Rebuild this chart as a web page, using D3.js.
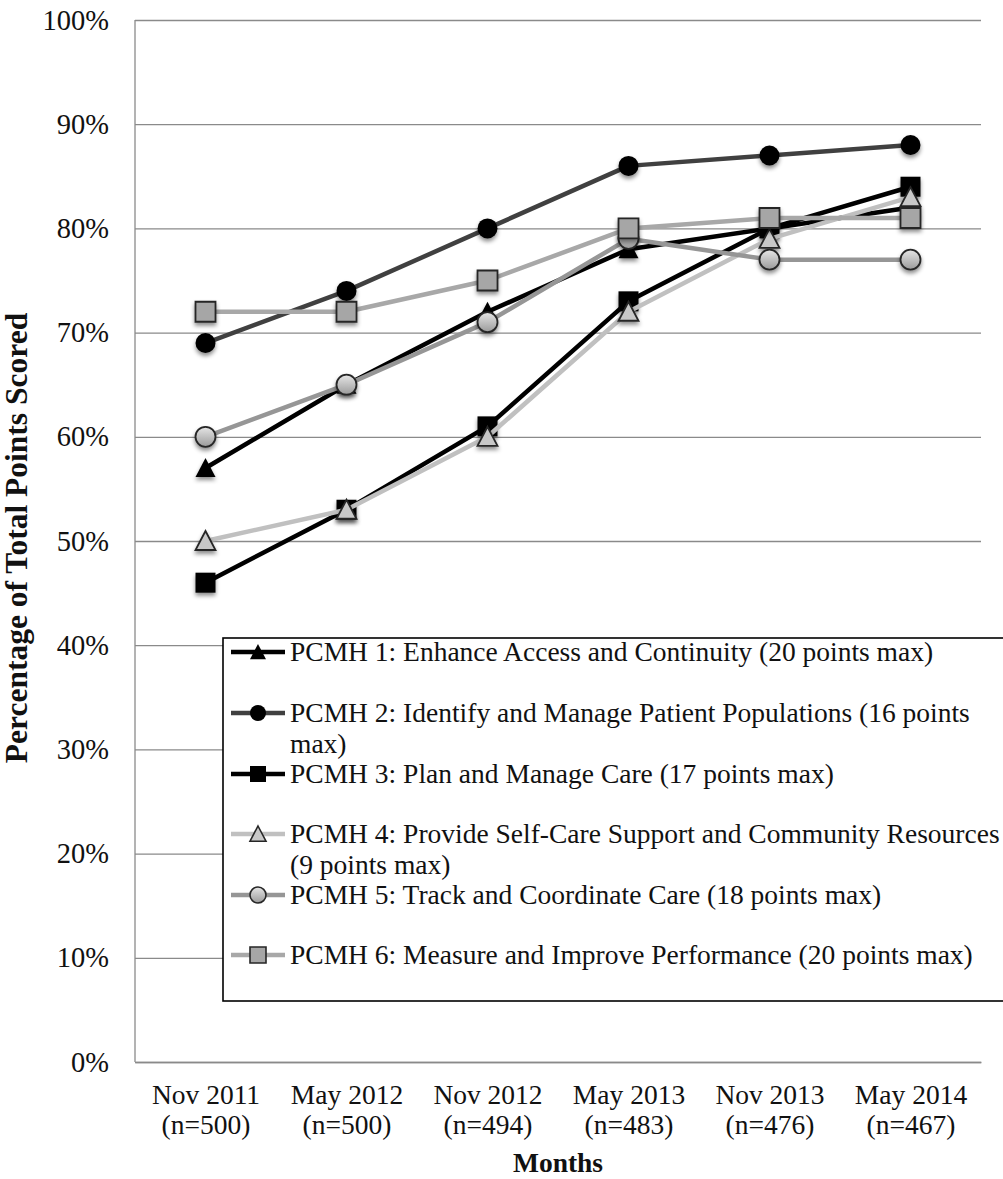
<!DOCTYPE html>
<html>
<head>
<meta charset="utf-8">
<script src="https://cdn.jsdelivr.net/npm/d3@7"></script>
<style>
  html, body { margin: 0; padding: 0; background: #fff; }
  svg { display: block; }
  text { font-family: "Liberation Serif", "Times New Roman", serif; fill: #111; }
</style>
</head>
<body>
<svg id="chart" width="1003" height="1179"></svg>
<script>
// Survey rounds (x categories) and sample sizes
const months = ["Nov 2011", "May 2012", "Nov 2012", "May 2013", "Nov 2013", "May 2014"];
const sampleSizes = ["(n=500)", "(n=500)", "(n=494)", "(n=483)", "(n=476)", "(n=467)"];

// Percentage of total points scored per standard
const pcmh1 = [57, 65, 72, 78, 80, 82];
const pcmh2 = [69, 74, 80, 86, 87, 88];
const pcmh3 = [46, 53, 61, 73, 80, 84];
const pcmh4 = [50, 53, 60, 72, 79, 83];
const pcmh5 = [60, 65, 71, 79, 77, 77];
const pcmh6 = [72, 72, 75, 80, 81, 81];

// Legend labels (pre-wrapped lines)
const seriesLabels = [
  ["PCMH 1: Enhance Access and Continuity (20 points max)"],
  ["PCMH 2: Identify and Manage Patient Populations (16 points", "max)"],
  ["PCMH 3: Plan and Manage Care (17 points max)"],
  ["PCMH 4: Provide Self-Care Support and Community Resources", "(9 points max)"],
  ["PCMH 5: Track and Coordinate Care (18 points max)"],
  ["PCMH 6: Measure and Improve Performance (20 points max)"]
];

const yTicks = [0, 10, 20, 30, 40, 50, 60, 70, 80, 90, 100];

const seriesValues = [pcmh1, pcmh2, pcmh3, pcmh4, pcmh5, pcmh6];
const styles = [
  { line: "#000000", shape: "triangle", fill: "#000000", stroke: "none" },
  { line: "#404040", shape: "circle",   fill: "#000000", stroke: "none" },
  { line: "#000000", shape: "square",   fill: "#000000", stroke: "none" },
  { line: "#c0c0c0", shape: "triangle", fill: "#c8c8c8", stroke: "#262626" },
  { line: "#969696", shape: "circle",   fill: "url(#ballGrad)", stroke: "#262626" },
  { line: "#a8a8a8", shape: "square",   fill: "#a6a6a6", stroke: "#262626" }
];

const svg = d3.select("#chart");
const plotLeft = 135, plotRight = 981, plotTop = 20, plotBottom = 1062;
const FS = 27.5;

const defs = svg.append("defs");
const grad = defs.append("linearGradient").attr("id", "ballGrad")
  .attr("x1", 0).attr("y1", 0).attr("x2", 0).attr("y2", 1);
grad.append("stop").attr("offset", "0%").attr("stop-color", "#e6e6e6");
grad.append("stop").attr("offset", "100%").attr("stop-color", "#9a9a9a");
defs.append("filter").attr("id", "shadow")
  .attr("x", "-50%").attr("y", "-50%").attr("width", "200%").attr("height", "200%")
  .append("feDropShadow").attr("dx", 0).attr("dy", 3).attr("stdDeviation", 2)
  .attr("flood-color", "#000").attr("flood-opacity", 0.45);

const x = d3.scalePoint().domain(months).range([plotLeft, plotRight]).padding(0.5);
const y = d3.scaleLinear().domain([0, 100]).range([plotBottom, plotTop]);

// Gridlines + y tick labels
const yAxis = svg.append("g").attr("transform", `translate(${plotLeft},0)`)
  .call(d3.axisLeft(y).tickValues(yTicks).tickFormat(d => d + "%")
    .tickSize(-(plotRight - plotLeft)).tickPadding(26));
yAxis.select(".domain").remove();
yAxis.selectAll(".tick line").attr("stroke", "#8a8a8a").attr("stroke-width", 1.3);
yAxis.selectAll(".tick text").attr("font-size", 28.5).attr("fill", "#111")
  .style("font-family", '"Liberation Serif", serif');

// Left axis line
svg.append("line").attr("x1", plotLeft).attr("x2", plotLeft).attr("y1", plotTop).attr("y2", plotBottom)
  .attr("stroke", "#8a8a8a").attr("stroke-width", 1.3);

// X axis labels (two lines)
const xAxis = svg.append("g").attr("transform", `translate(0,${plotBottom})`)
  .call(d3.axisBottom(x).tickSize(0).tickFormat(""));
xAxis.select(".domain").attr("stroke", "#8a8a8a").attr("stroke-width", 1.3);
const xl = xAxis.selectAll(".tick").append("text")
  .attr("text-anchor", "middle").attr("font-size", FS).attr("fill", "#111");
xl.append("tspan").attr("x", 0).attr("y", 42).text(d => d);
xl.append("tspan").attr("x", 0).attr("y", 72).text((d, i) => sampleSizes[i]);

// Axis titles
svg.append("text").attr("x", (plotLeft + plotRight) / 2).attr("y", 1172)
  .attr("text-anchor", "middle").attr("font-size", FS).attr("font-weight", "bold")
  .text("Months");
svg.append("text").attr("transform", `translate(27,${(plotTop + plotBottom) / 2 - 3}) rotate(-90)`)
  .attr("text-anchor", "middle").attr("font-size", 31.5).attr("font-weight", "bold")
  .text("Percentage of Total Points Scored");

// Marker path generator
function markerPath(shape, s) {
  const h = s / 2;
  if (shape === "triangle") return `M0,${-h} L${h},${h * 0.9} L${-h},${h * 0.9} Z`;
  if (shape === "square") return `M${-h},${-h} H${h} V${h} H${-h} Z`;
  return d3.symbol().type(d3.symbolCircle).size(Math.PI * h * h)();
}

const line = d3.line().x((d, i) => x(months[i])).y(d => y(d));

seriesValues.forEach((vals, si) => {
  const st = styles[si];
  const g = svg.append("g");
  g.append("path").datum(vals).attr("d", line)
    .attr("fill", "none").attr("stroke", st.line).attr("stroke-width", 4.5)
    .attr("stroke-linejoin", "round");
  g.selectAll("path.mk").data(vals).join("path").attr("class", "mk")
    .attr("transform", (d, i) => `translate(${x(months[i])},${y(d)})`)
    .attr("d", markerPath(st.shape, 20))
    .attr("fill", st.fill).attr("stroke", st.stroke).attr("stroke-width", 1.8)
    .attr("filter", "url(#shadow)");
});

// Legend
const lg = svg.append("g");
lg.append("rect").attr("x", 223).attr("y", 638).attr("width", 800).attr("height", 363)
  .attr("fill", "#fff").attr("stroke", "#000").attr("stroke-width", 1.6);
const rowY = [652, 713, 774, 834, 895, 955];
seriesLabels.forEach((lines, si) => {
  const st = styles[si];
  const cy = rowY[si];
  lg.append("line").attr("x1", 231).attr("x2", 285).attr("y1", cy).attr("y2", cy)
    .attr("stroke", st.line).attr("stroke-width", 4.5);
  lg.append("path").attr("transform", `translate(258,${cy})`)
    .attr("d", markerPath(st.shape, 16))
    .attr("fill", st.fill).attr("stroke", st.stroke).attr("stroke-width", 1.6);
  const t = lg.append("text").attr("font-size", FS).attr("fill", "#111");
  lines.forEach((ln, li) => {
    t.append("tspan").attr("x", 290).attr("y", cy + 9 + li * 31).text(ln);
  });
});
</script>
</body>
</html>
